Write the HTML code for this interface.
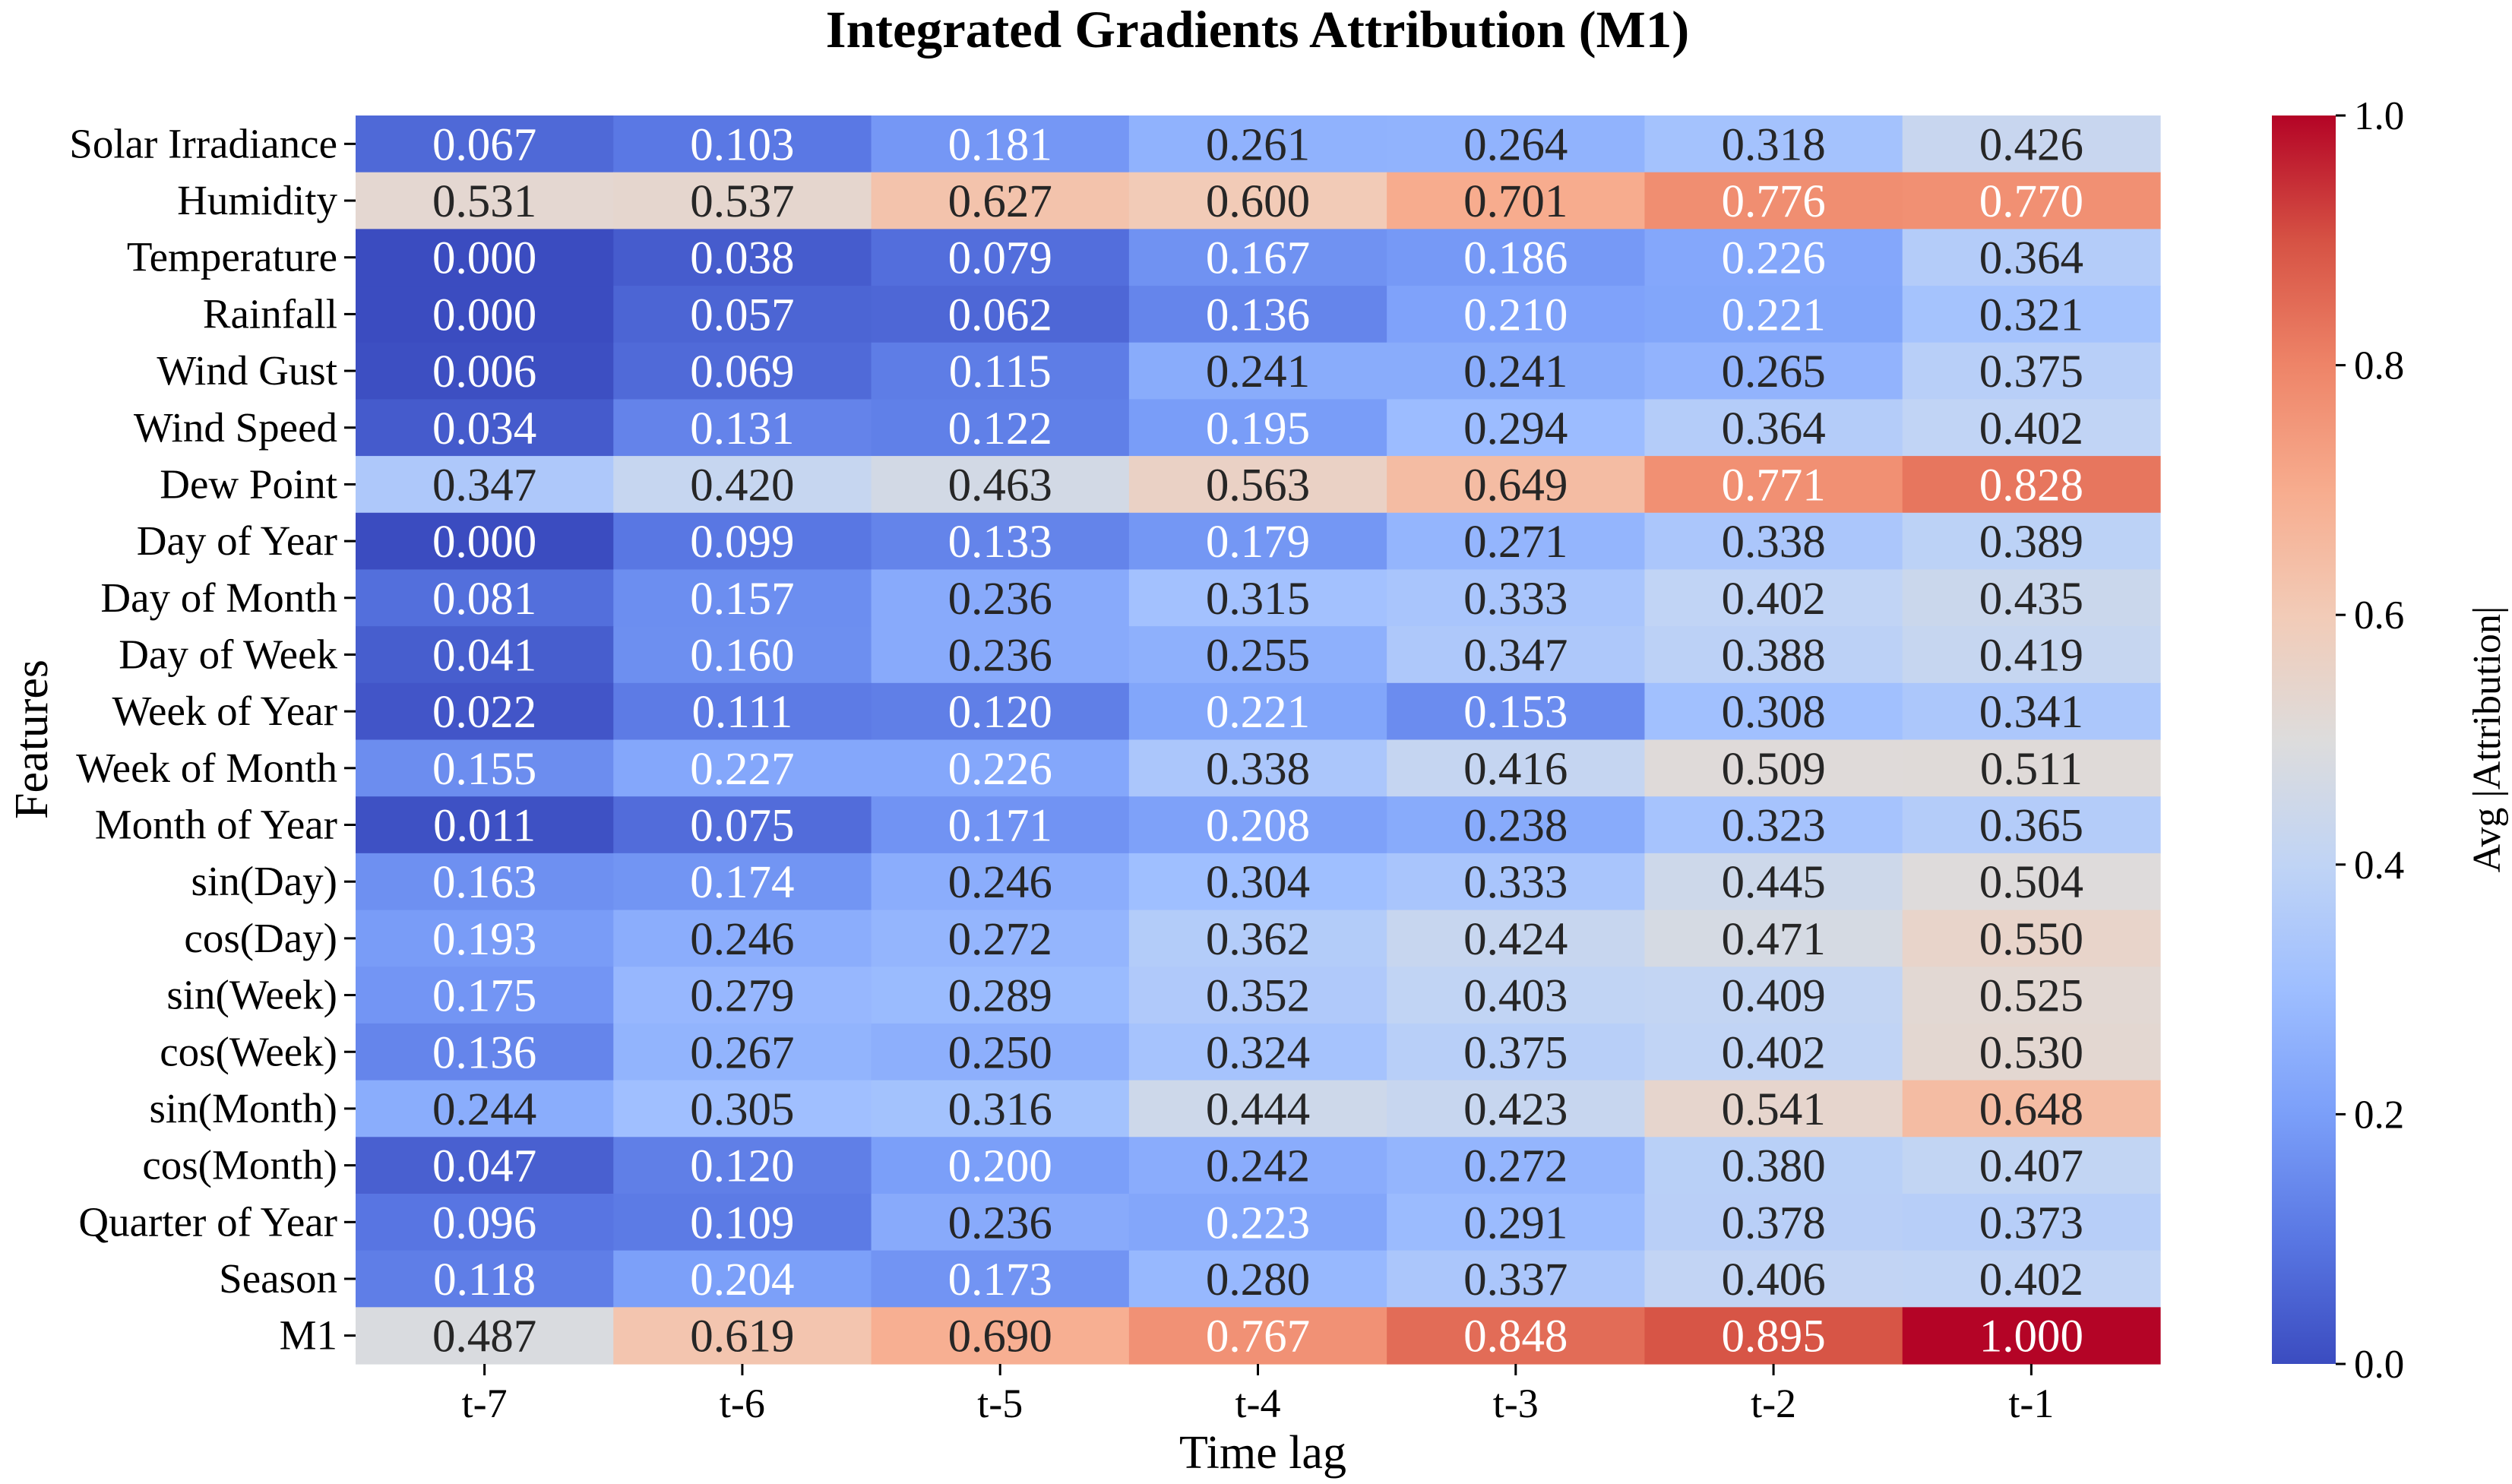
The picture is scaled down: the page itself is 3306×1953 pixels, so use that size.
<!DOCTYPE html>
<html><head><meta charset="utf-8">
<style>
html,body{margin:0;padding:0;background:#fff;}
svg{display:block;font-family:"Liberation Serif","DejaVu Serif",serif;}
</style></head>
<body>
<svg id="chart" width="3306" height="1953" viewBox="0 0 3306 1953" xmlns="http://www.w3.org/2000/svg">
<rect width="3306" height="1953" fill="#fff"/>
<text x="1655" y="62" text-anchor="middle" font-size="69" font-weight="bold" fill="#000">Integrated Gradients Attribution (M1)</text>
<g id="cells"></g>
<g id="yaxis"></g>
<g id="xaxis"></g>
<text x="1662" y="1932" text-anchor="middle" font-size="62" fill="#000">Time lag</text>
<text transform="translate(62,973) rotate(-90)" text-anchor="middle" font-size="62" fill="#000">Features</text>
<defs>
<linearGradient id="cbgrad" x1="0" y1="1" x2="0" y2="0">
<stop offset="0" stop-color="#3b4cc0"/><stop offset="0.1" stop-color="#5977e3"/>
<stop offset="0.2" stop-color="#7b9ff9"/><stop offset="0.3" stop-color="#9ebeff"/>
<stop offset="0.4" stop-color="#c0d4f5"/><stop offset="0.5" stop-color="#dddcdc"/>
<stop offset="0.6" stop-color="#f2cbb7"/><stop offset="0.7" stop-color="#f7ac8e"/>
<stop offset="0.8" stop-color="#ee8468"/><stop offset="0.9" stop-color="#d65244"/>
<stop offset="1" stop-color="#b40426"/>
</linearGradient>
</defs>
<rect x="2990" y="152" width="84" height="1643" fill="url(#cbgrad)"/>
<g id="cbticks"></g>
<text transform="translate(3290,973) rotate(-90)" text-anchor="middle" font-size="52" fill="#000">Avg |Attribution|</text>
</svg>
<script>
const features = ["Solar Irradiance","Humidity","Temperature","Rainfall","Wind Gust","Wind Speed","Dew Point","Day of Year","Day of Month","Day of Week","Week of Year","Week of Month","Month of Year","sin(Day)","cos(Day)","sin(Week)","cos(Week)","sin(Month)","cos(Month)","Quarter of Year","Season","M1"];
const lags = ["t-7","t-6","t-5","t-4","t-3","t-2","t-1"];
const values = [
[0.067,0.103,0.181,0.261,0.264,0.318,0.426],
[0.531,0.537,0.627,0.600,0.701,0.776,0.770],
[0.000,0.038,0.079,0.167,0.186,0.226,0.364],
[0.000,0.057,0.062,0.136,0.210,0.221,0.321],
[0.006,0.069,0.115,0.241,0.241,0.265,0.375],
[0.034,0.131,0.122,0.195,0.294,0.364,0.402],
[0.347,0.420,0.463,0.563,0.649,0.771,0.828],
[0.000,0.099,0.133,0.179,0.271,0.338,0.389],
[0.081,0.157,0.236,0.315,0.333,0.402,0.435],
[0.041,0.160,0.236,0.255,0.347,0.388,0.419],
[0.022,0.111,0.120,0.221,0.153,0.308,0.341],
[0.155,0.227,0.226,0.338,0.416,0.509,0.511],
[0.011,0.075,0.171,0.208,0.238,0.323,0.365],
[0.163,0.174,0.246,0.304,0.333,0.445,0.504],
[0.193,0.246,0.272,0.362,0.424,0.471,0.550],
[0.175,0.279,0.289,0.352,0.403,0.409,0.525],
[0.136,0.267,0.250,0.324,0.375,0.402,0.530],
[0.244,0.305,0.316,0.444,0.423,0.541,0.648],
[0.047,0.120,0.200,0.242,0.272,0.380,0.407],
[0.096,0.109,0.236,0.223,0.291,0.378,0.373],
[0.118,0.204,0.173,0.280,0.337,0.406,0.402],
[0.487,0.619,0.690,0.767,0.848,0.895,1.000]
];
const cbTicks = [0.0,0.2,0.4,0.6,0.8,1.0];
const vmin = 0, vmax = 1;

const NS = "http://www.w3.org/2000/svg";
const L = 468, R = 2843, T = 152, B = 1795;
const CBX = 2990, CBW = 84;
const colW = (R - L) / lags.length, rowH = (B - T) / features.length;
const xPos = i => L + i * colW;
const yPos = j => T + j * rowH;
const cbY = v => B - (v - vmin) / (vmax - vmin) * (B - T);

const stops = [[59,76,192],[89,119,227],[123,159,249],[158,190,255],[192,212,245],[221,220,220],[242,203,183],[247,172,142],[238,132,104],[214,82,68],[180,4,38]];
function cmap(v){
  let t = Math.max(0, Math.min(1, (v - vmin) / (vmax - vmin))) * 10;
  let i = Math.min(9, Math.floor(t)), f = t - i;
  return stops[i].map((c,k)=>Math.round(c + (stops[i+1][k]-c)*f));
}
function lum(rgb){
  const c = rgb.map(x=>{x/=255;return x<=0.03928?x/12.92:Math.pow((x+0.055)/1.055,2.4);});
  return 0.2126*c[0]+0.7152*c[1]+0.0722*c[2];
}
function mk(tag, attrs, parent){
  const e = document.createElementNS(NS, tag);
  for (const k in attrs) e.setAttribute(k, attrs[k]);
  parent.appendChild(e); return e;
}
const cells = document.getElementById('cells');
values.forEach((row, j) => {
  row.forEach((v, i) => {
    const rgb = cmap(v);
    const r = mk('rect', {x: xPos(i), y: yPos(j), width: colW + 0.6, height: rowH + 0.6, fill: `rgb(${rgb.join(',')})`}, cells);
    
    
    const t = mk('text', {x: xPos(i) + colW/2, y: yPos(j) + rowH/2 + 21, 'text-anchor': 'middle', 'font-size': 61, fill: lum(rgb) > 0.408 ? '#262626' : '#ffffff'}, cells);
    t.textContent = v.toFixed(3);
    
    
  });
});
const ya = document.getElementById('yaxis');
features.forEach((f, j) => {
  const cy = yPos(j) + rowH/2;
  const tk = mk('line', {x1: L - 15, x2: L, y1: cy, y2: cy, stroke: '#000', 'stroke-width': 3}, ya);
  
  
  const t = mk('text', {x: L - 24, y: cy + 18, 'text-anchor': 'end', 'font-size': 55, fill: '#000'}, ya);
  t.textContent = f;
  
  
});
const xa = document.getElementById('xaxis');
lags.forEach((l, i) => {
  const cx = xPos(i) + colW/2;
  const tk = mk('line', {x1: cx, x2: cx, y1: B, y2: B + 15, stroke: '#000', 'stroke-width': 3}, xa);
  
  
  const t = mk('text', {x: cx, y: B + 70, 'text-anchor': 'middle', 'font-size': 54, fill: '#000'}, xa);
  t.textContent = l;
  
  
});
const cb = document.getElementById('cbticks');
cbTicks.forEach(v => {
  const y = cbY(v);
  const tk = mk('line', {x1: CBX + CBW, x2: CBX + CBW + 13, y1: y, y2: y, stroke: '#000', 'stroke-width': 3}, cb);
  
  
  const t = mk('text', {x: CBX + CBW + 24, y: y + 18, 'font-size': 53, fill: '#000'}, cb);
  t.textContent = v.toFixed(1);
  
  
});
</script>
</body></html>
